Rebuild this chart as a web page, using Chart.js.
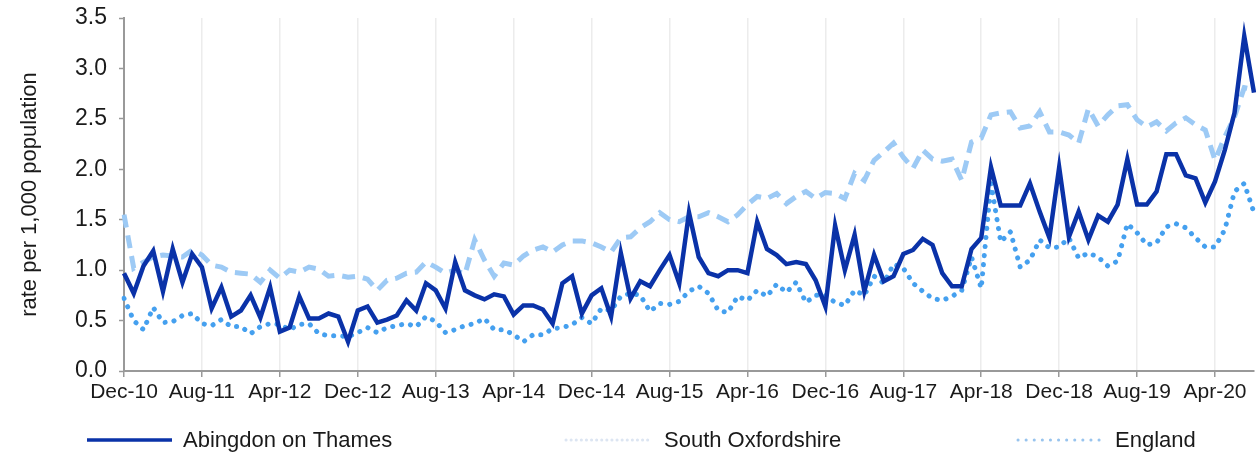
<!DOCTYPE html>
<html>
<head>
<meta charset="utf-8">
<script src="https://cdn.jsdelivr.net/npm/chart.js@4/dist/chart.umd.min.js"></script>
<style>
  html, body { margin: 0; padding: 0; background: #ffffff; }
  #wrap { position: relative; width: 1259px; height: 457px; }
</style>
</head>
<body>
<div id="wrap"><canvas id="c" width="1259" height="457"></canvas></div>
<script>
const months = [
  "Dec-10",
  "Jan-11","Feb-11","Mar-11","Apr-11","May-11","Jun-11","Jul-11","Aug-11","Sep-11","Oct-11","Nov-11","Dec-11",
  "Jan-12","Feb-12","Mar-12","Apr-12","May-12","Jun-12","Jul-12","Aug-12","Sep-12","Oct-12","Nov-12","Dec-12",
  "Jan-13","Feb-13","Mar-13","Apr-13","May-13","Jun-13","Jul-13","Aug-13","Sep-13","Oct-13","Nov-13","Dec-13",
  "Jan-14","Feb-14","Mar-14","Apr-14","May-14","Jun-14","Jul-14","Aug-14","Sep-14","Oct-14","Nov-14","Dec-14",
  "Jan-15","Feb-15","Mar-15","Apr-15","May-15","Jun-15","Jul-15","Aug-15","Sep-15","Oct-15","Nov-15","Dec-15",
  "Jan-16","Feb-16","Mar-16","Apr-16","May-16","Jun-16","Jul-16","Aug-16","Sep-16","Oct-16","Nov-16","Dec-16",
  "Jan-17","Feb-17","Mar-17","Apr-17","May-17","Jun-17","Jul-17","Aug-17","Sep-17","Oct-17","Nov-17","Dec-17",
  "Jan-18","Feb-18","Mar-18","Apr-18","May-18","Jun-18","Jul-18","Aug-18","Sep-18","Oct-18","Nov-18","Dec-18",
  "Jan-19","Feb-19","Mar-19","Apr-19","May-19","Jun-19","Jul-19","Aug-19","Sep-19","Oct-19","Nov-19","Dec-19",
  "Jan-20","Feb-20","Mar-20","Apr-20","May-20","Jun-20","Jul-20","Aug-20"
];

const abingdon = [
  0.97,0.77,1.04,1.19,0.79,1.21,0.88,1.16,1.03,0.62,
  0.83,0.54,0.60,0.75,0.53,0.83,0.39,0.43,0.74,0.52,
  0.52,0.57,0.54,0.29,0.60,0.64,0.48,0.51,0.55,0.70,
  0.60,0.87,0.80,0.62,1.08,0.80,0.75,0.71,0.76,0.74,
  0.56,0.65,0.65,0.61,0.47,0.87,0.94,0.57,0.75,0.82,
  0.54,1.17,0.72,0.89,0.84,1.00,1.15,0.87,1.57,1.13,
  0.97,0.94,1.00,1.00,0.97,1.48,1.21,1.15,1.06,1.08,
  1.06,0.90,0.64,1.44,1.00,1.35,0.79,1.15,0.89,0.94,
  1.16,1.20,1.31,1.25,0.97,0.84,0.84,1.21,1.32,2.02,
  1.64,1.64,1.64,1.86,1.58,1.32,2.02,1.33,1.58,1.30,
  1.54,1.48,1.65,2.10,1.65,1.65,1.78,2.15,2.15,1.94,
  1.91,1.67,1.88,2.19,2.56,3.32,2.76
];

const southOxfordshire = [
  0.72,0.50,0.41,0.63,0.48,0.49,0.55,0.57,0.47,0.45,
  0.51,0.44,0.44,0.37,0.44,0.47,0.46,0.41,0.46,0.47,
  0.37,0.35,0.35,0.34,0.38,0.43,0.38,0.43,0.45,0.47,
  0.44,0.54,0.49,0.38,0.41,0.45,0.47,0.52,0.41,0.41,
  0.36,0.29,0.36,0.36,0.42,0.43,0.46,0.53,0.47,0.62,
  0.60,0.74,0.77,0.75,0.59,0.67,0.66,0.69,0.79,0.84,
  0.77,0.60,0.58,0.74,0.70,0.80,0.74,0.86,0.78,0.88,
  0.68,0.75,0.75,0.68,0.65,0.80,0.75,0.94,0.87,1.06,
  1.02,0.87,0.79,0.72,0.70,0.74,0.80,1.13,0.82,1.86,
  1.28,1.38,1.03,1.10,1.30,1.22,1.23,1.32,1.12,1.17,
  1.13,1.04,1.09,1.46,1.37,1.25,1.27,1.43,1.46,1.42,
  1.32,1.23,1.23,1.40,1.78,1.86,1.57
];

const england = [
  1.55,1.02,1.08,1.13,1.15,1.14,1.13,1.20,1.15,1.05,
  1.03,0.98,0.97,0.96,0.88,1.00,0.92,1.00,0.98,1.03,
  1.01,0.94,0.95,0.93,0.94,0.91,0.80,0.90,0.92,0.97,
  0.98,1.08,1.03,0.97,1.00,0.96,1.30,1.10,0.94,1.07,
  1.05,1.14,1.20,1.23,1.18,1.25,1.29,1.29,1.27,1.23,
  1.18,1.32,1.33,1.42,1.48,1.57,1.50,1.48,1.53,1.53,
  1.57,1.53,1.48,1.55,1.65,1.73,1.71,1.76,1.66,1.73,
  1.78,1.71,1.77,1.76,1.71,1.96,1.89,2.09,2.17,2.26,
  2.12,2.01,2.19,2.10,2.08,2.10,1.89,2.27,2.31,2.54,
  2.56,2.57,2.41,2.43,2.57,2.37,2.37,2.34,2.26,2.60,
  2.43,2.54,2.63,2.64,2.49,2.42,2.47,2.38,2.46,2.51,
  2.44,2.39,2.09,2.32,2.52,2.81,2.79
];

const yTicks = [0, 0.5, 1.0, 1.5, 2.0, 2.5, 3.0, 3.5];
const seriesNames = ["Abingdon on Thames", "South Oxfordshire", "England"];
const yTitle = "rate per 1,000 population";

const FONT = "'Liberation Sans', Arial, sans-serif";

// custom legend drawn on canvas at the reference's positions
const legendPlugin = {
  id: 'customLegend',
  afterDraw(chart, args, opts) {
    const ctx = chart.ctx;
    ctx.save();
    ctx.font = opts.fontSize + 'px ' + FONT;
    ctx.textBaseline = 'middle';
    ctx.textAlign = 'left';
    chart.data.datasets.forEach((ds, i) => {
      const it = opts.items[i];
      ctx.beginPath();
      ctx.strokeStyle = it.color;
      ctx.lineWidth = it.width;
      ctx.lineCap = it.cap || 'butt';
      ctx.setLineDash(it.dash || []);
      ctx.moveTo(it.x0, opts.y);
      ctx.lineTo(it.x1, opts.y);
      ctx.stroke();
      ctx.setLineDash([]);
      ctx.fillStyle = '#1a1a1a';
      ctx.fillText(ds.label, it.tx, opts.y + 1);
    });
    ctx.restore();
  }
};

const ctx = document.getElementById('c').getContext('2d');
new Chart(ctx, {
  type: 'line',
  data: {
    labels: months,
    datasets: [
      {
        label: seriesNames[0],
        data: abingdon,
        borderColor: '#0a32a8',
        borderWidth: 4.5,
        pointRadius: 0,
        tension: 0,
        borderJoinStyle: 'miter'
      },
      {
        label: seriesNames[1],
        data: southOxfordshire,
        borderColor: '#45a0ef',
        borderWidth: 5,
        borderDash: [0.1, 9],
        borderCapStyle: 'round',
        pointRadius: 0,
        tension: 0
      },
      {
        label: seriesNames[2],
        data: england,
        borderColor: '#9dcaf5',
        borderWidth: 5,
        borderDash: [13, 8],
        pointRadius: 0,
        tension: 0
      }
    ]
  },
  options: {
    responsive: false,
    animation: false,
    layout: { padding: { left: 0, right: 5, top: 0, bottom: 50 } },
    plugins: {
      legend: { display: false },
      tooltip: { enabled: false },
      customLegend: {
        y: 440,
        fontSize: 22,
        items: [
          { x0: 87, x1: 172, tx: 183, color: '#0a32a8', width: 3.5 },
          { x0: 566, x1: 650, tx: 664, color: '#dce5f2', width: 3, dash: [0.1, 5], cap: 'round' },
          { x0: 1018, x1: 1100, tx: 1115, color: '#98c4ee', width: 3, dash: [0.1, 8], cap: 'round' }
        ]
      }
    },
    scales: {
      x: {
        type: 'category',
        offset: false,
        afterFit(scale) { scale.height = 36; },
        border: { display: true, color: '#999999', width: 2 },
        grid: {
          display: true,
          drawOnChartArea: true,
          color: '#ececec',
          lineWidth: 1.5,
          tickColor: '#999999',
          tickLength: 6,
          tickWidth: 1.5
        },
        ticks: {
          autoSkip: false,
          maxRotation: 0,
          minRotation: 0,
          padding: 3,
          color: '#1a1a1a',
          font: { family: FONT, size: 21 },
          callback(value, index) {
            return index % 8 === 0 ? months[index] : null;
          }
        }
      },
      y: {
        min: 0,
        max: 3.5,
        afterFit(scale) { scale.width = 124; scale.paddingTop = 18; },
        afterBuildTicks(scale) { scale.ticks = yTicks.map(v => ({ value: v })); },
        border: { display: true, color: '#999999', width: 2 },
        grid: {
          display: true,
          drawOnChartArea: false,
          tickColor: '#999999',
          tickLength: 5,
          tickWidth: 1.5
        },
        ticks: {
          padding: 12,
          color: '#1a1a1a',
          font: { family: FONT, size: 23 },
          callback(value) { return Number(value).toFixed(1); }
        },
        title: {
          display: true,
          text: yTitle,
          color: '#1a1a1a',
          font: { family: FONT, size: 22 },
          padding: { top: 17, bottom: 0 }
        }
      }
    }
  },
  plugins: [legendPlugin]
});
</script>
</body>
</html>
